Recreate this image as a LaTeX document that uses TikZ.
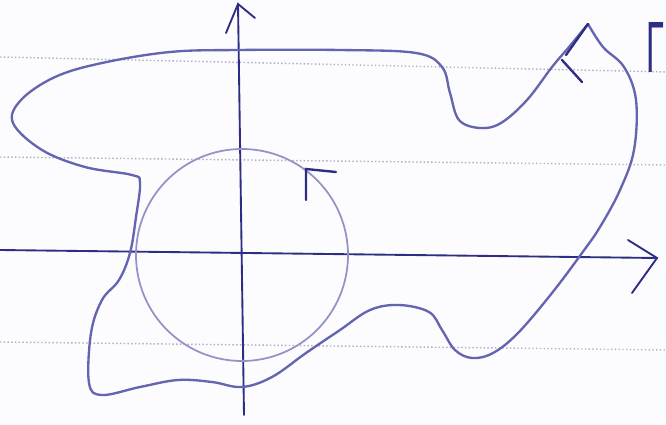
\documentclass[tikz,border=0pt]{standalone}
\usepackage{fontspec}
\usepackage{xcolor}
\usepackage{tikz}
\usetikzlibrary{positioning,calc}
\newfontfamily\gammafont{Liberation Sans}
\definecolor{penblue}{RGB}{45,45,130}
\definecolor{fadeblue}{RGB}{100,100,175}
\definecolor{paperline}{RGB}{175,175,200}
\definecolor{paper}{RGB}{252,252,254}

\begin{document}
\begin{tikzpicture}[
        x=0.03cm, y=-0.03cm,
        axis/.style={penblue, line width=1.6pt, line cap=round},
        ruled/.style={paperline, line width=1.2pt, dotted},
        loop/.style={fadeblue, line width=2pt, line cap=round, line join=round},
        disc/.style={fadeblue!70, line width=1.5pt},
        tick/.style={penblue, line width=2pt, line cap=round}
    ]
        % Paper
        \fill[paper] (0,0) rectangle (666,425);
        \useasboundingbox (0,0) rectangle (666,425);

        % Ruled lines
        \draw[ruled] (0,57) -- (666,72);
        \draw[ruled] (0,157) -- (666,165);
        \draw[ruled] (0,342) -- (666,350);

        % Axes
        \coordinate (xl) at (0,250);
        \coordinate (xr) at (657,258);
        \coordinate (yb) at (244,415);
        \coordinate (yt) at (238,4);
        \draw[axis] (xl) -- (xr);
        \draw[axis] (628,240) -- (xr) -- (632,293);
        \draw[axis] (yb) -- (yt);
        \draw[axis] (226,33) -- (yt) -- (255,18);

        % Circle
        \coordinate (o) at (242,255);
        \draw[disc] (o) circle[radius=106];
        \draw[tick] (306,200) -- (306,169) -- (336,172);

        % Curve
        \coordinate (tip) at (588,24);
        \draw[loop] plot[smooth, tension=0.6] coordinates {
            (tip) (603,47) (624,67) (636,100) (634,150) (620,190) (600,227)
            (582,253) (552,293) (518,333) (493,353) (472,358) (455,350)
            (442,330) (429,312) (399,305) (370,310) (340,330) (306,353)
            (272,377) (242,387) (212,382) (178,380) (140,387) (102,395)
            (89,383) (91,333) (102,300) (119,280) (130,253) (136,217)
            (140,183) (132,175) (85,167) (42,150) (13,123) (21,100)
            (55,77) (102,63) (170,52) (238,50) (340,50) (416,53) (442,67)
            (450,93) (459,120) (480,128) (501,123) (527,100) (552,67)
            (569,47) (tip)};
        \draw[tick] (tip) -- (566,55);
        \draw[tick] (562,60) -- (582,82);

        % Label
        \node (gamma) [anchor=north east, inner sep=0pt, penblue, transform shape, xscale=0.45, font=\gammafont\fontsize{62}{62}\selectfont] at (665,22) {Γ};
    \end{tikzpicture}
\end{document}
